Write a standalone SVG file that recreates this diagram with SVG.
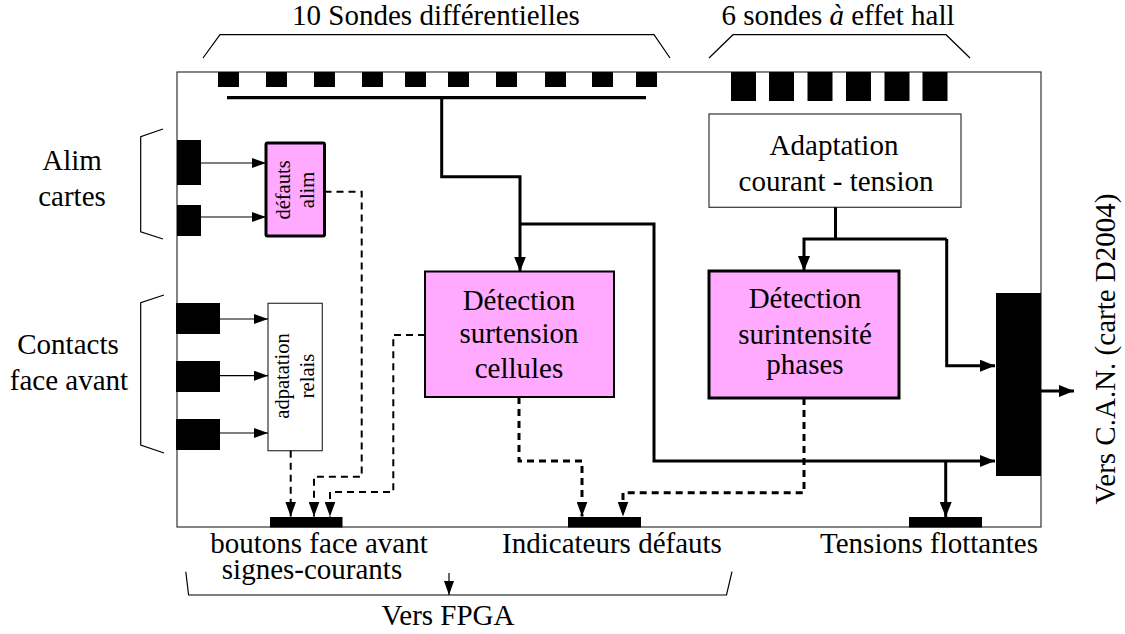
<svg xmlns="http://www.w3.org/2000/svg" width="1125" height="634" viewBox="0 0 1125 634">
<defs>
<style>
.lbl{font-size:29px;text-anchor:middle}
.sm{font-size:20.5px;text-anchor:middle}
.thin{fill:none;stroke:#000;stroke-width:1.2}
.frame{fill:#fff;stroke:#333;stroke-width:1.2}
.box{fill:#fff;stroke:#333;stroke-width:1.2}
.pink{fill:#ffaaff;stroke:#000}
.blk{fill:#000}
.thick{fill:none;stroke:#000;stroke-width:3;stroke-linejoin:miter}
.dash2{fill:none;stroke:#000;stroke-width:2;stroke-dasharray:7 5}
.dash3{fill:none;stroke:#000;stroke-width:3;stroke-dasharray:7 5}
</style>
<marker id="aT" markerUnits="userSpaceOnUse" markerWidth="14" markerHeight="10" refX="14" refY="5" orient="auto"><path d="M0,0 L14,5 L0,10 Z" fill="#000"/></marker>
<marker id="aK" markerUnits="userSpaceOnUse" markerWidth="15" markerHeight="12" refX="15" refY="6" orient="auto"><path d="M0,0 L15,6 L0,12 Z" fill="#000"/></marker>
<marker id="aD" markerUnits="userSpaceOnUse" markerWidth="15" markerHeight="11" refX="15" refY="5.5" orient="auto"><path d="M0,0 L15,5.5 L0,11 Z" fill="#000"/></marker>
</defs>

<g font-family="'Liberation Serif', 'Times New Roman', 'DejaVu Serif', serif" fill="#000">

<rect class="frame" x="177" y="72" width="864" height="455"/>

<g id="brackets">
<polyline class="thin" points="203,58 220,34.7 654,34.7 670,58"/>
<polyline class="thin" points="709,58 733,34.7 946,34.7 970,58"/>
<polyline class="thin" points="163,129 140.7,136.7 140.7,231.7 163,239"/>
<polyline class="thin" points="164,295 140.7,302.7 140.7,445 164,453"/>
<polyline class="thin" points="185.8,571.7 188.6,595 726.5,595 732,571.7"/>
</g>

<g id="labels">
<text class="lbl" x="436" y="25">10 Sondes différentielles</text>
<text class="lbl" x="838" y="25">6 sondes <tspan font-style="italic">à</tspan> effet hall</text>
<text class="lbl" x="72" y="170">Alim</text>
<text class="lbl" x="72" y="206">cartes</text>
<text class="lbl" x="68" y="354">Contacts</text>
<text class="lbl" x="69" y="390">face avant</text>
<text class="lbl" x="319" y="553">boutons face avant</text>
<text class="lbl" x="312" y="579">signes-courants</text>
<text class="lbl" x="612" y="553">Indicateurs défauts</text>
<text class="lbl" x="929" y="553">Tensions flottantes</text>
<text class="lbl" x="448" y="625">Vers FPGA</text>
<text class="lbl" transform="translate(1115,349) rotate(-90)">Vers C.A.N. (carte D2004)</text>
</g>

<g id="sondes-diff">
<rect class="blk" x="218" y="72" width="21" height="15"/>
<rect class="blk" x="266" y="72" width="21" height="15"/>
<rect class="blk" x="314" y="72" width="21" height="15"/>
<rect class="blk" x="362" y="72" width="21" height="15"/>
<rect class="blk" x="405" y="72" width="21" height="15"/>
<rect class="blk" x="448" y="72" width="21" height="15"/>
<rect class="blk" x="496" y="72" width="21" height="15"/>
<rect class="blk" x="545" y="72" width="21" height="15"/>
<rect class="blk" x="592" y="72" width="21" height="15"/>
<rect class="blk" x="636" y="72" width="21" height="15"/>
</g>

<g id="sondes-hall">
<rect class="blk" x="731" y="72" width="25" height="29"/>
<rect class="blk" x="769" y="72" width="25" height="29"/>
<rect class="blk" x="807.5" y="72" width="25" height="29"/>
<rect class="blk" x="846" y="72" width="25" height="29"/>
<rect class="blk" x="884.5" y="72" width="25" height="29"/>
<rect class="blk" x="922.5" y="72" width="25" height="29"/>
</g>

<g id="alim-connecteurs">
<rect class="blk" x="177" y="140" width="24" height="45"/>
<rect class="blk" x="177" y="205" width="24" height="31"/>
</g>

<g id="contacts-connecteurs">
<rect class="blk" x="176" y="303" width="44" height="31"/>
<rect class="blk" x="176" y="361" width="44" height="31"/>
<rect class="blk" x="176" y="419" width="44" height="31"/>
</g>

<g id="defauts-alim">
<rect class="pink" x="266" y="143" width="58.5" height="93" stroke-width="3" rx="1.5"/>
<text class="sm" transform="translate(290,190) rotate(-90)">défauts</text>
<text class="sm" transform="translate(314,190) rotate(-90)">alim</text>
</g>

<g id="adaptation-relais">
<rect class="box" x="268" y="303.3" width="54.3" height="147.4"/>
<text class="sm" transform="translate(289,376) rotate(-90)">adpatation</text>
<text class="sm" transform="translate(314,376) rotate(-90)">relais</text>
</g>

<g id="adaptation-courant">
<rect class="box" x="709" y="114" width="252" height="93.3"/>
<text class="lbl" x="834" y="155">Adaptation</text>
<text class="lbl" x="836" y="191">courant - tension</text>
</g>

<g id="detection-surtension">
<rect class="pink" x="425" y="271.5" width="189" height="125.5" stroke-width="2"/>
<text class="lbl" x="519" y="310">Détection</text>
<text class="lbl" x="519" y="343">surtension</text>
<text class="lbl" x="519" y="378">cellules</text>
</g>

<g id="detection-surintensite">
<rect class="pink" x="709" y="271" width="190" height="127" stroke-width="3"/>
<text class="lbl" x="805" y="308">Détection</text>
<text class="lbl" x="805" y="344">surintensité</text>
<text class="lbl" x="805" y="374">phases</text>
</g>

<g id="connecteur-can">
<rect class="blk" x="996" y="293" width="45" height="183"/>
</g>

<g id="bus-boutons"><rect class="blk" x="270" y="517" width="72.5" height="10.5"/></g>
<g id="bus-indicateurs"><rect class="blk" x="568" y="517" width="73" height="10.5"/></g>
<g id="bus-tensions"><rect class="blk" x="909" y="517" width="73" height="10.5"/></g>

<g id="connectors">
<line x1="227" y1="97.7" x2="646" y2="97.7" stroke="#000" stroke-width="3.3"/>
<path class="thick" d="M441.7,97.7 V176.7 H520 V271.5" marker-end="url(#aK)"/>
<path class="thick" d="M520,224 H654 V461 H995" marker-end="url(#aK)"/>
<path class="thick" d="M945.7,461 V517" marker-end="url(#aK)"/>
<path class="thick" d="M835.5,207.3 V239"/>
<path class="thick" d="M946.7,239 H804 V271" marker-end="url(#aK)"/>
<path class="thick" d="M946.7,239 V365.7 H995" marker-end="url(#aK)"/>
<path class="thick" d="M1041,391 H1074" marker-end="url(#aK)"/>

<line class="thin" x1="201" y1="163" x2="266" y2="163" marker-end="url(#aT)"/>
<line class="thin" x1="201" y1="217" x2="266" y2="217" marker-end="url(#aT)"/>
<line class="thin" x1="220" y1="319" x2="268" y2="319" marker-end="url(#aT)"/>
<line class="thin" x1="220" y1="375.7" x2="268" y2="375.7" marker-end="url(#aT)"/>
<line class="thin" x1="220" y1="433" x2="268" y2="433" marker-end="url(#aT)"/>

<path class="dash2" d="M324.5,191.7 H361.7 V476.7 H314 V516.5" marker-end="url(#aD)"/>
<path class="dash2" d="M425,335 H393.3 V492 H330 V516.5" marker-end="url(#aD)"/>
<path class="dash2" d="M290.7,450.7 V516.5" marker-end="url(#aD)"/>
<path class="dash3" d="M519,397 V461 H582 V516.5" marker-end="url(#aD)"/>
<path class="dash3" d="M804,398 V492.7 H623 V516.5" marker-end="url(#aD)"/>

<line class="thin" x1="449" y1="573" x2="449" y2="595" marker-end="url(#aT)"/>
</g>
</g>
</svg>
